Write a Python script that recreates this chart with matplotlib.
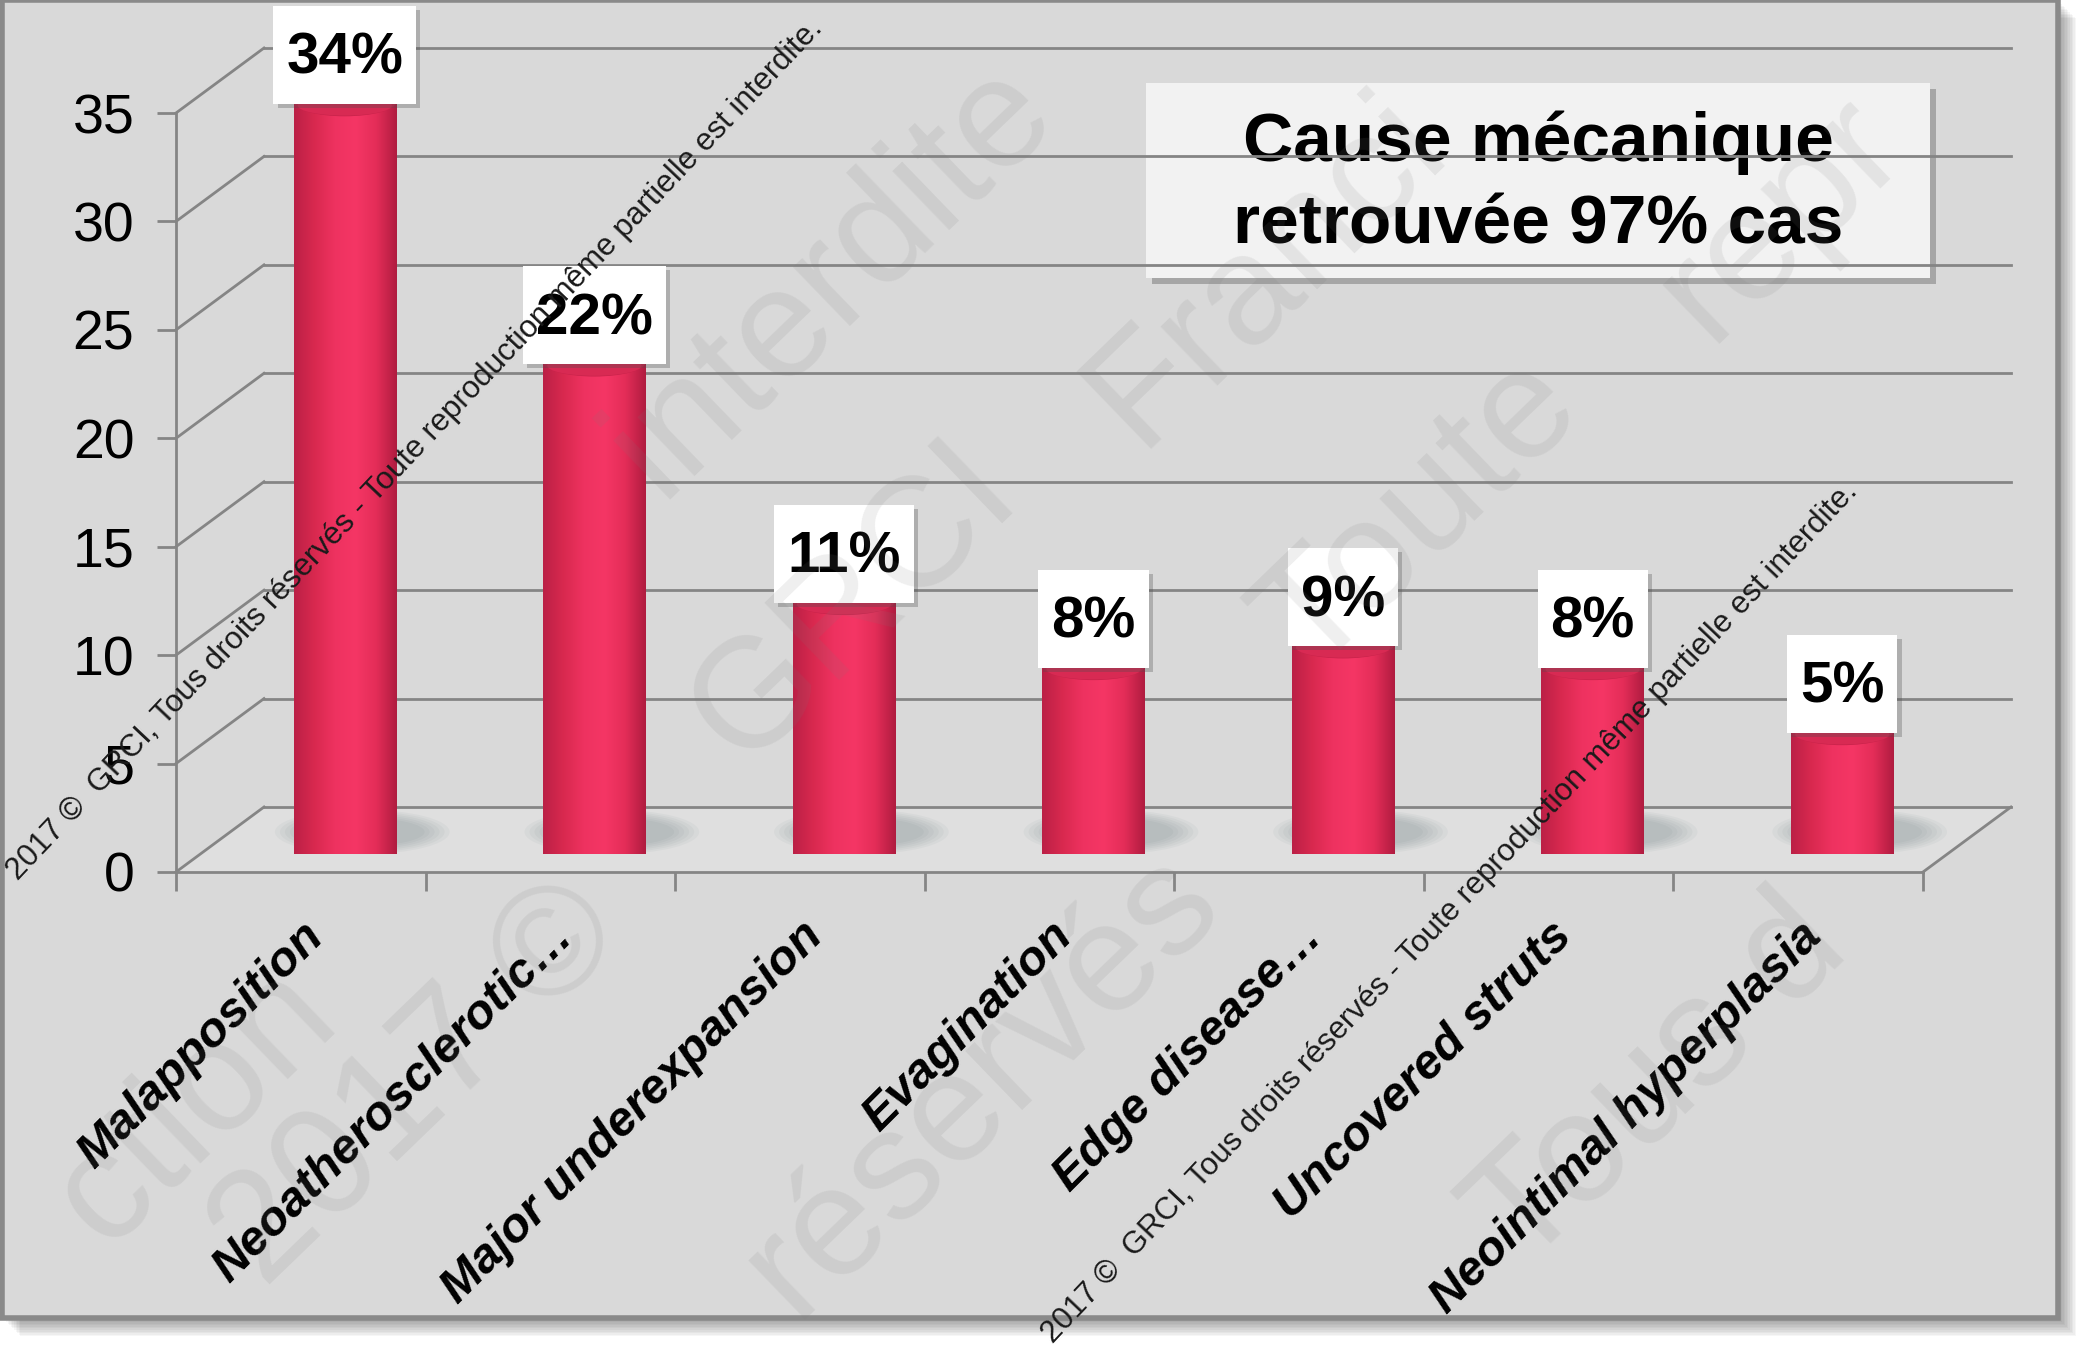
import numpy as np
import matplotlib.pyplot as plt
from matplotlib.patches import Rectangle, Ellipse, Polygon, PathPatch
from matplotlib.path import Path
from matplotlib.colors import LinearSegmentedColormap
from matplotlib.transforms import IdentityTransform
import matplotlib.patheffects as pe

plt.rcParams['font.family'] = ['Liberation Sans', 'DejaVu Sans']

categories = ["Malapposition", "Neoatherosclerotic…", "Major underexpansion",
              "Evagination", "Edge disease…", "Uncovered struts",
              "Neointimal hyperplasia"]
percentages = [34, 22, 11, 8, 9, 8, 5]
y_ticks = [0, 5, 10, 15, 20, 25, 30, 35]
title_text = "Cause mécanique\nretrouvée 97% cas"
notice = "2017 ©  GRCI, Tous droits réservés - Toute reproduction même partielle est interdite."
# pieces of the large background notice, with their start point (pixels, y down)
notice_words = ["2017 ©", "GRCI", "Franci", "interdite", "réservés", "Toute",
                "repr", "Tous d", "ction"]
notice_starts = [(265, 1290), (742, 768), (1139, 450), (660, 500), (795, 1320),
                 (1311, 676), (1709, 344), (1523, 1272), (105, 1250)]

W, H = 2077, 1353
fig = plt.figure(figsize=(W / 100, H / 100), dpi=100)
fig.patch.set_facecolor('white')

# background layer in pixel units (y down)
bg = fig.add_axes([0, 0, 1, 1])
bg.set_xlim(0, W)
bg.set_ylim(H, 0)
bg.axis('off')
for k in range(10):
    bg.add_patch(Rectangle((6 + k * 1.6, 4 + k * 1.6), 2056, 1318,
                           fc='black', ec='none', alpha=0.035))
bg.add_patch(Rectangle((2, 0), 2056, 1318, fc='#d9d9d9', ec='#8a8a8a', lw=4))

# title box
bg.add_patch(Rectangle((1146, 83), 784, 195, fc='#f2f2f2', ec='none', zorder=5,
                       path_effects=[pe.SimplePatchShadow(offset=(4, -4), alpha=0.35),
                                     pe.Normal()]))
bg.text(1538, 184, title_text, ha='center', va='center', fontsize=50,
        fontweight='bold', linespacing=1.38, zorder=6)

# front plane of the 3D chart
ax = fig.add_axes([176 / W, 1 - 872 / H, (1923 - 176) / W, (872 - 113) / H])
ax.set_xlim(-0.5, 6.5)
ax.set_ylim(0, 35)
ax.patch.set_visible(False)
for s in ax.spines.values():
    s.set_visible(False)

n = len(categories)
DX = 88 / (1747 / n)      # depth offset in category units
DY = 65 / (759 / 35)      # depth offset in value units
grid_c = '#858585'
x0, x1 = -0.5, n - 0.5

ax.add_patch(Polygon([(x0, 0), (x1, 0), (x1 + DX, DY), (x0 + DX, DY)],
                     closed=True, fc='#dfdfdf', ec='none', zorder=0.5, clip_on=False))
for v in y_ticks:
    ax.plot([x0 + DX, x1 + DX], [v + DY, v + DY], color=grid_c, lw=2, clip_on=False, zorder=1)
    ax.plot([x0, x0 + DX], [v, v + DY], color=grid_c, lw=2, clip_on=False, zorder=1)
ax.plot([x0, x1], [0, 0], color=grid_c, lw=2, clip_on=False, zorder=1)
ax.plot([x1, x1 + DX], [0, DY], color=grid_c, lw=2, clip_on=False, zorder=1)
ax.plot([x0, x0], [0, 35], color=grid_c, lw=2, clip_on=False, zorder=1)

ax.set_yticks(y_ticks)
ax.set_yticklabels([str(v) for v in y_ticks], fontsize=40)
ax.tick_params(axis='y', length=14, width=2, color=grid_c, pad=16)

ax.set_xticks(np.arange(n))
ax.set_xticklabels(categories, rotation=45, ha='right', rotation_mode='anchor',
                   fontsize=35, fontweight='bold', fontstyle='italic')
ax.set_xticks(np.arange(n + 1) - 0.5, minor=True)
ax.tick_params(axis='x', which='major', length=0, pad=30)
ax.tick_params(axis='x', which='minor', length=14, width=2, color=grid_c)

# cylinders
cyl = LinearSegmentedColormap.from_list(
    'cyl', ['#bb2046', '#d9294f', '#ee3260', '#f53665', '#e42d58', '#b01c40'])
grad = np.linspace(0, 1, 256)[None, :]
w, eh = 0.41, 0.65
base = DY / 2
t = np.linspace(np.pi, 2 * np.pi, 60)
labels = []
for i, v in enumerate(percentages):
    xc = i + DX / 2
    top = base + v
    for k in range(6):
        ax.add_patch(Ellipse((xc + 0.07, base + 0.35), 0.5 + 0.04 * k, 1.3 + 0.15 * k,
                             fc='#556a70', ec='none', alpha=0.05, zorder=2, clip_on=False))
    rim = np.column_stack([xc + w / 2 * np.cos(t), base + eh * np.sin(t)])
    verts = np.vstack([[xc - w / 2, top], rim, [xc + w / 2, top], [xc - w / 2, top]])
    body = PathPatch(Path(verts), fc='none', ec='none', transform=ax.transData)
    ax.add_patch(body)
    im = ax.imshow(grad, cmap=cyl, extent=[xc - w / 2, xc + w / 2, base - eh, top],
                   aspect='auto', origin='lower', zorder=3, clip_on=False)
    im.set_clip_path(body)
    ax.add_patch(Ellipse((xc, top), w, 2 * eh, fc='#c8224a', ec='none', zorder=4, clip_on=False))
    ax.add_patch(Ellipse((xc, top - 0.15), w * 0.92, 2 * eh * 0.72, fc='#d82a53', ec='none',
                         zorder=4, clip_on=False))

    labels.append(ax.annotate(f"{v}%", xy=(xc, top + 0.75), ha='center', va='bottom',
                              fontsize=42, fontweight='bold', zorder=7,
                              annotation_clip=False))
ax.set_xlim(-0.5, 6.5)
ax.set_ylim(0, 35)

# white boxes behind the value labels, taller than the text
renderer = fig.canvas.get_renderer()
for lab in labels:
    bb = lab.get_window_extent(renderer)
    box = Rectangle((bb.x0 - 13, bb.y0 - 18), bb.width + 26, bb.height + 44,
                    transform=IdentityTransform(), fc='white', ec='none', zorder=6,
                    clip_on=False,
                    path_effects=[pe.SimplePatchShadow(offset=(3, -3), alpha=0.3), pe.Normal()])
    ax.add_artist(box)

# faint large diagonal notice
for word, (xs, ys) in zip(notice_words, notice_starts):
    fig.text(xs / W, 1 - ys / H, word, rotation=44, rotation_mode='anchor',
             ha='left', va='baseline', fontsize=112, color='#7a7a7a', alpha=0.12, zorder=20)

# small printed notice lines
fig.text(18 / W, 1 - 881 / H, notice, rotation=46.6, rotation_mode='anchor',
         ha='left', va='baseline', fontsize=22.5, color='#1a1a1a', zorder=21)
fig.text(1053 / W, 1 - 1344 / H, notice, rotation=46.6, rotation_mode='anchor',
         ha='left', va='baseline', fontsize=22.5, color='#1a1a1a', zorder=21)

fig.savefig('out.png', dpi=100)
